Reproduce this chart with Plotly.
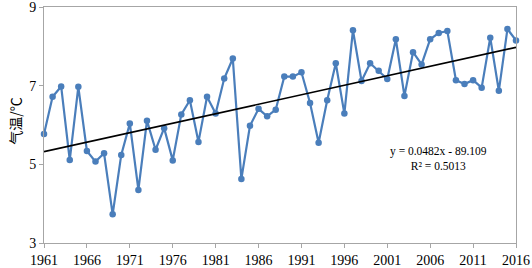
import numpy as np
import plotly.graph_objects as go

years = list(range(1961, 2017))
temps = [5.77, 6.72, 6.98, 5.11, 6.97, 5.34, 5.07, 5.28, 3.73, 5.24,
         6.04, 4.35, 6.11, 5.37, 5.92, 5.10, 6.27, 6.63, 5.57, 6.72,
         6.29, 7.18, 7.69, 4.63, 5.98, 6.41, 6.22, 6.39, 7.23, 7.23,
         7.34, 6.56, 5.55, 6.63, 7.57, 6.29, 8.41, 7.12, 7.57, 7.38,
         7.17, 8.18, 6.74, 7.85, 7.54, 8.18, 8.34, 8.39, 7.14, 7.04,
         7.14, 6.95, 8.22, 6.87, 8.44, 8.15]
x_ticks = list(range(1961, 2017, 5))
y_ticks = [3, 5, 7, 9]
y_title = "气温/℃"
eq_text = "y = 0.0482x - 89.109<br>R² = 0.5013"

# fitted trend from data
coef = np.polyfit(years, temps, 1)
trend_x = [years[0], years[-1]]
trend_y = [float(np.polyval(coef, v)) for v in trend_x]

fig = go.Figure()
fig.add_trace(go.Scatter(
    x=years, y=temps, mode="lines+markers",
    line=dict(color="#4a7ebb", width=2.2),
    marker=dict(color="#4a7ebb", size=6.5),
    showlegend=False, cliponaxis=False,
))
fig.add_trace(go.Scatter(
    x=trend_x, y=trend_y, mode="lines",
    line=dict(color="#000000", width=1.6),
    showlegend=False,
))

serif = "Liberation Serif, Times New Roman, serif"
axis_common = dict(
    showline=True, mirror=True, linecolor="#a6a6a6", linewidth=1,
    ticks="outside", ticklen=4, tickcolor="#a6a6a6", tickwidth=1,
    showgrid=False, zeroline=False, automargin=False,
    ticklabeloverflow="allow",
    tickfont=dict(family=serif, size=14, color="#000000"),
)
fig.update_xaxes(range=[1961, 2016], tickvals=x_ticks, ticktext=[str(t) for t in x_ticks],
                 **axis_common)
fig.update_yaxes(range=[3, 9], tickvals=y_ticks, **axis_common)

# y-axis title as rotated annotation
fig.add_annotation(x=-0.062, y=0.517, xref="paper", yref="paper", text=y_title,
                   textangle=-90, showarrow=False, xanchor="center", yanchor="middle",
                   font=dict(family="Noto Sans CJK SC", size=14, color="#000000"))

fig.add_annotation(x=2007, y=5.16, xref="x", yref="y", text=eq_text,
                   showarrow=False, align="center",
                   font=dict(family=serif, size=11.5, color="#000000"))

fig.update_layout(
    template="none",
    width=532, height=268,
    margin=dict(l=44, r=16, t=7, b=25),
    paper_bgcolor="#ffffff", plot_bgcolor="#ffffff",
)
fig.write_html("out.html", config={"displayModeBar": False},
               post_script="document.body.style.margin='0';document.body.style.overflow='hidden';")
